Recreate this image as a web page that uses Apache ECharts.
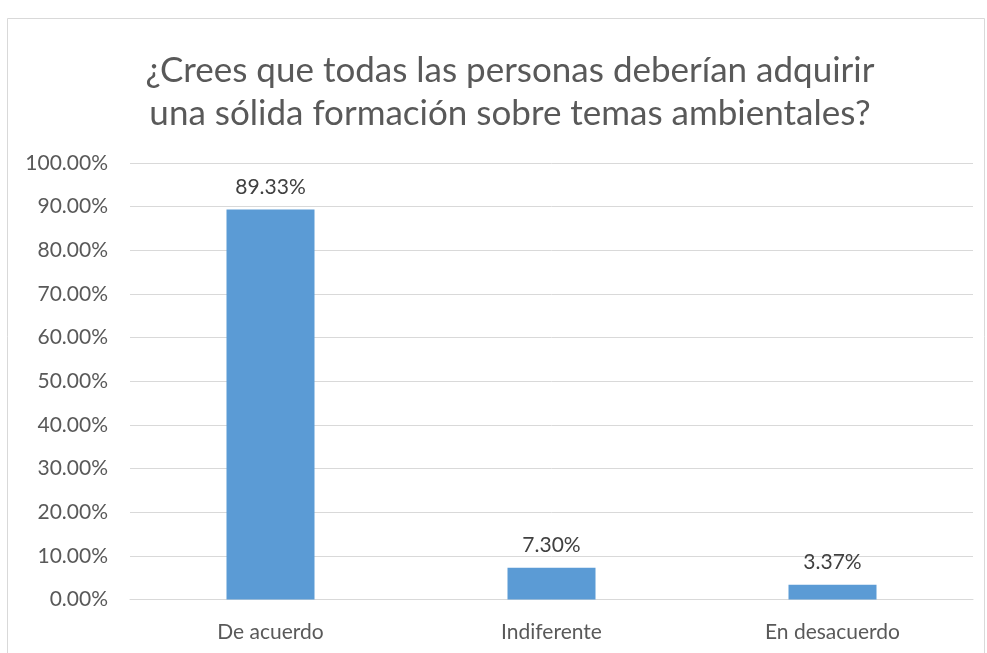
<!DOCTYPE html>
<html><head><meta charset="utf-8">
<script src="https://cdn.jsdelivr.net/npm/echarts@6/dist/echarts.min.js"></script>
<style>html,body{margin:0;padding:0;background:#fff}#c{width:987px;height:653px}</style>
</head><body><div id="c"></div>
<script>
const categories = ['De acuerdo', 'Indiferente', 'En desacuerdo'];
const values = [89.33, 7.30, 3.37];
const titleLines = ['¿Crees que todas las personas deberían adquirir', 'una sólida formación sobre temas ambientales?'];
const FONT = 'Lato, "Open Sans", sans-serif';
const chart = echarts.init(document.getElementById('c'));
chart.setOption({
  animation: false,
  backgroundColor: '#fff',
  graphic: [{
    type: 'rect', shape: { x: 7.5, y: 18.5, width: 977, height: 660 },
    style: { fill: 'none', stroke: '#d9d9d9', lineWidth: 1 }, silent: true
  }],
  title: {
    text: titleLines.join('\n'), left: 505, top: 44, textAlign: 'center',
    textStyle: { fontFamily: FONT, fontSize: 35, fontWeight: 'normal', color: '#595959', lineHeight: 43 }
  },
  grid: { left: 130, right: 14, top: 163, bottom: 53.5, containLabel: false },
  xAxis: {
    type: 'category', data: categories,
    axisLine: { lineStyle: { color: '#d9d9d9' } }, axisTick: { show: false },
    axisLabel: { fontFamily: FONT, fontSize: 21, color: '#595959', margin: 22 }
  },
  yAxis: {
    type: 'value', min: 0, max: 100, interval: 10,
    axisLine: { show: false }, axisTick: { show: false },
    splitLine: { lineStyle: { color: '#d9d9d9' } },
    axisLabel: { fontFamily: FONT, fontSize: 21, color: '#595959', margin: 22, formatter: v => v.toFixed(2) + '%' }
  },
  series: [{
    type: 'bar', data: values, barWidth: 88,
    itemStyle: { color: '#5B9BD5' },
    label: { show: true, position: 'top', distance: 12, fontFamily: FONT, fontSize: 21, color: '#404040', formatter: p => p.value.toFixed(2) + '%' }
  }]
});
</script></body></html>
